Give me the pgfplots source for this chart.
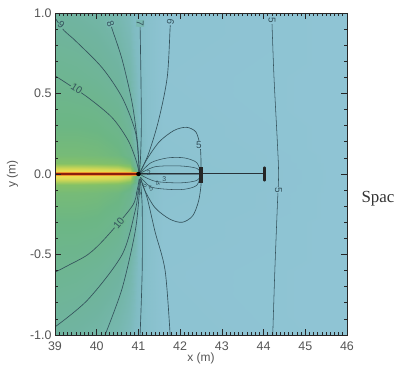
\documentclass[border=0pt]{standalone}
\usepackage{pgfplots}
\pgfplotsset{compat=1.18}
\usepackage{fontspec}
\setmainfont{Liberation Sans}
\newfontfamily\seriffont{Liberation Serif}
\definecolor{cline}{RGB}{52,82,92}
\definecolor{tickgray}{RGB}{85,85,85}
\definecolor{segc}{RGB}{40,50,56}
\definecolor{bgblue}{RGB}{143,196,212}
\definecolor{bggreen}{RGB}{108,180,140}
\definecolor{bgteal}{RGB}{114,181,160}
\definecolor{bgteal2}{RGB}{122,185,178}
\begin{document}
\begin{tikzpicture}[x=1bp,y=1bp]
\useasboundingbox (0,0) rectangle (394,373);
\begin{axis}[at={(55bp,38bp)}, anchor=south west, scale only axis,
  width=292bp, height=322bp,
  xmin=39, xmax=46, ymin=-1, ymax=1,
  xtick={39,40,...,46}, ytick={-1,-0.5,0,0.5,1},
  minor x tick num=9, minor y tick num=4,
  tick align=inside, major tick length=6bp, minor tick length=3bp,
  every tick/.style={black!85, line width=0.7bp},
  yticklabel style={/pgf/number format/.cd,fixed,fixed zerofill,precision=1},
  /pgf/number format/assume math mode=true,
  tick label style={font=\fontsize{12.5}{14}\selectfont, text=tickgray},
  x tick label style={yshift=-3bp},
  xlabel={x (m)}, ylabel={y (m)},
  label style={font=\fontsize{12}{14}\selectfont, text=tickgray},
  xlabel style={yshift=4bp},
  ylabel style={yshift=5bp},
  axis on top, axis line style={line width=0.9bp, black!85},
  colormap={bg}{rgb255(0cm)=(143,196,212) rgb255(2cm)=(128,188,195) rgb255(3.5cm)=(112,180,160) rgb255(5cm)=(108,182,132) rgb255(6.5cm)=(135,194,100) rgb255(8cm)=(205,214,85) rgb255(9cm)=(238,222,80) rgb255(10cm)=(235,150,50)},
  point meta min=0, point meta max=10,
]
\addplot[surf, shader=interp, mesh/cols=9, point meta=explicit] table[meta=c] {
x y c
39 -1 3.5
39.5 -1 3.4
40 -1 3.2
40.5 -1 2.8
40.8 -1 2.3
41 -1 1.6
41.2 -1 1.0
41.6 -1 0.3
46 -1 0
39 -0.6 4.3
39.5 -0.6 4.2
40 -0.6 4.0
40.5 -0.6 3.6
40.8 -0.6 3.0
41 -0.6 2.0
41.2 -0.6 1.0
41.6 -0.6 0.2
46 -0.6 0
39 -0.3 5.0
39.5 -0.3 5.0
40 -0.3 4.9
40.5 -0.3 4.5
40.8 -0.3 3.8
41 -0.3 2.3
41.2 -0.3 1.1
41.6 -0.3 0.3
46 -0.3 0
39 -0.12 5.6
39.5 -0.12 5.6
40 -0.12 5.5
40.5 -0.12 5.2
40.8 -0.12 4.5
41 -0.12 2.6
41.2 -0.12 1.2
41.6 -0.12 0.4
46 -0.12 0
39 -0.07 6.3
39.5 -0.07 6.3
40 -0.07 6.2
40.5 -0.07 6.0
40.8 -0.07 5.4
41 -0.07 2.9
41.2 -0.07 1.3
41.6 -0.07 0.45
46 -0.07 0
39 -0.025 8.6
39.5 -0.025 8.6
40 -0.025 8.5
40.5 -0.025 8.3
40.8 -0.025 7.6
41 -0.025 3.6
41.2 -0.025 1.5
41.6 -0.025 0.5
46 -0.025 0
39 0 9.3
39.5 0 9.3
40 0 9.2
40.5 0 9.0
40.8 0 8.5
41 0 4.0
41.2 0 1.5
41.6 0 0.5
46 0 0
39 0.025 8.6
39.5 0.025 8.6
40 0.025 8.5
40.5 0.025 8.3
40.8 0.025 7.6
41 0.025 3.6
41.2 0.025 1.5
41.6 0.025 0.5
46 0.025 0
39 0.07 6.3
39.5 0.07 6.3
40 0.07 6.2
40.5 0.07 6.0
40.8 0.07 5.4
41 0.07 2.9
41.2 0.07 1.3
41.6 0.07 0.45
46 0.07 0
39 0.12 5.6
39.5 0.12 5.6
40 0.12 5.5
40.5 0.12 5.2
40.8 0.12 4.5
41 0.12 2.6
41.2 0.12 1.2
41.6 0.12 0.4
46 0.12 0
39 0.3 5.0
39.5 0.3 5.0
40 0.3 4.9
40.5 0.3 4.5
40.8 0.3 3.8
41 0.3 2.3
41.2 0.3 1.1
41.6 0.3 0.3
46 0.3 0
39 0.6 4.3
39.5 0.6 4.2
40 0.6 4.0
40.5 0.6 3.6
40.8 0.6 3.0
41 0.6 2.0
41.2 0.6 1.0
41.6 0.6 0.2
46 0.6 0
39 1 3.5
39.5 1 3.4
40 1 3.2
40.5 1 2.8
40.8 1 2.3
41 1 1.6
41.2 1 1.0
41.6 1 0.3
46 1 0
};
% hot line
\addplot[line width=4bp, color={rgb,255:red,238;green,150;blue,45}] coordinates {(39,0) (41,0)};
\addplot[line width=1.8bp, color={rgb,255:red,140;green,30;blue,15}] coordinates {(39,0) (41,0)};
% contour lines, upper half
\addplot[cline, line width=0.65bp, smooth] coordinates {(39.0,0.61) (39.3,0.56) (39.79,0.475) (40.37,0.35) (40.75,0.21) (40.95,0.08) (41.02,0.0)};
\addplot[cline, line width=0.65bp, smooth] coordinates {(39.0,0.97) (39.22,0.89) (39.48,0.83) (40.13,0.66) (40.61,0.475) (40.92,0.27) (41.0,0.1) (41.02,0)};
\addplot[cline, line width=0.65bp, smooth] coordinates {(40.34,0.93) (40.37,0.9) (40.61,0.71) (40.85,0.44) (40.98,0.19) (41.02,0)};
\addplot[cline, line width=0.65bp, smooth] coordinates {(41.04,0.92) (41.06,0.6) (41.07,0.3) (41.05,0.1) (41.02,0)};
\addplot[cline, line width=0.65bp, smooth] coordinates {(41.77,0.94) (41.76,0.91) (41.69,0.6) (41.48,0.33) (41.24,0.125) (41.02,0)};
% contour lines, lower half
\addplot[cline, line width=0.65bp, smooth] coordinates {(39.0,-0.61) (39.3,-0.57) (39.79,-0.5) (40.2,-0.4) (40.85,-0.2) (40.97,-0.1) (41.02,-0.03)};
\addplot[cline, line width=0.65bp, smooth] coordinates {(39.0,-0.95) (39.79,-0.78) (40.61,-0.5) (40.92,-0.23) (41.0,-0.1) (41.02,-0.03)};
\addplot[cline, line width=0.65bp, smooth] coordinates {(40.2,-1.0) (40.61,-0.71) (40.92,-0.36) (41.02,-0.12) (41.03,-0.03)};
\addplot[cline, line width=0.65bp, smooth] coordinates {(41.04,-1.0) (41.09,-0.6) (41.09,-0.2) (41.04,-0.03)};
\addplot[cline, line width=0.65bp, smooth] coordinates {(41.76,-1.0) (41.64,-0.6) (41.4,-0.36) (41.21,-0.15) (41.05,-0.03)};
% near-field loops
\addplot[cline, line width=0.65bp, smooth] coordinates {(41.02,0) (41.2,0.09) (41.5,0.2) (41.85,0.27) (42.15,0.29) (42.38,0.26) (42.48,0.17) (42.5,0.08) (42.5,0)};
\addplot[cline, line width=0.55bp, smooth] coordinates {(41.02,0) (41.3,0.07) (41.7,0.1) (42.1,0.1) (42.4,0.07) (42.5,0)};
\addplot[cline, line width=0.55bp, smooth] coordinates {(41.02,0) (41.4,0.045) (42.0,0.05) (42.4,0.035) (42.5,0)};
\addplot[cline, line width=0.55bp, smooth] coordinates {(41.02,0) (41.4,-0.045) (42.0,-0.055) (42.4,-0.04) (42.5,0)};
\addplot[cline, line width=0.55bp, smooth] coordinates {(41.05,-0.02) (41.3,-0.08) (41.7,-0.095) (42.1,-0.095) (42.4,-0.07) (42.5,0)};
\addplot[cline, line width=0.65bp, smooth] coordinates {(41.05,-0.02) (41.15,-0.1) (41.4,-0.21) (41.75,-0.28) (42.05,-0.3) (42.3,-0.26) (42.44,-0.17) (42.5,-0.07) (42.5,0)};
% far contour 5
\addplot[cline, line width=0.55bp, smooth] coordinates {(44.2,0.95) (44.25,0.6) (44.33,0.2) (44.36,0) (44.33,-0.2) (44.27,-0.6) (44.22,-1.0)};
% segment
\addplot[line width=2.2bp, color=segc, opacity=0.45] coordinates {(41,0) (42.5,0)};
\addplot[line width=1bp, color=segc] coordinates {(41,0) (44.02,0)};
\addplot[line width=3.5bp, black!85] coordinates {(42.5,-0.055) (42.5,0.045)};
\addplot[line width=2.5bp, black!85, line cap=round] coordinates {(44.02,-0.04) (44.02,0.04)};
\addplot[only marks, mark=*, mark size=2bp, black] coordinates {(41.0,0)};
% labels
\begin{scope}[every node/.style={font=\fontsize{10}{11}\selectfont, text=cline, inner sep=0.6pt}]
\node[rotate=-40, fill=bgteal] at (axis cs:39.15,0.925) {9};
\node[rotate=-33, fill=bggreen] at (axis cs:39.52,0.532) {10};
\node[rotate=-70, fill=bgteal2] at (axis cs:40.33,0.935) {8};
\node[rotate=-92, fill=bgteal2] at (axis cs:41.04,0.935) {7};
\node[rotate=-100, fill=bgblue] at (axis cs:41.77,0.945) {6};
\node[fill=bgblue] at (axis cs:42.45,0.18) {5};
\node[rotate=-90, fill=bgblue] at (axis cs:44.2,0.955) {5};
\node[rotate=-90, fill=bgblue] at (axis cs:44.36,-0.1) {5};
\node[rotate=50, fill=bggreen] at (axis cs:40.53,-0.305) {10};
\end{scope}
\begin{scope}[every node/.style={font=\fontsize{7}{8}\selectfont, text=cline, inner sep=0.3pt}]
\node at (axis cs:41.25,0.005) {2};
\node at (axis cs:41.62,-0.03) {3};
\node[rotate=30] at (axis cs:41.46,-0.06) {4};
\node[rotate=20] at (axis cs:41.3,-0.09) {5};
\node[rotate=60] at (axis cs:41.14,-0.075) {6};
\node[rotate=90] at (axis cs:41.0,-0.12) {8};
\end{scope}
\end{axis}
\node[anchor=west, font=\seriffont\fontsize{17}{19}\selectfont, text=black!80] at (358,174) {Spac};
\end{tikzpicture}
\end{document}
